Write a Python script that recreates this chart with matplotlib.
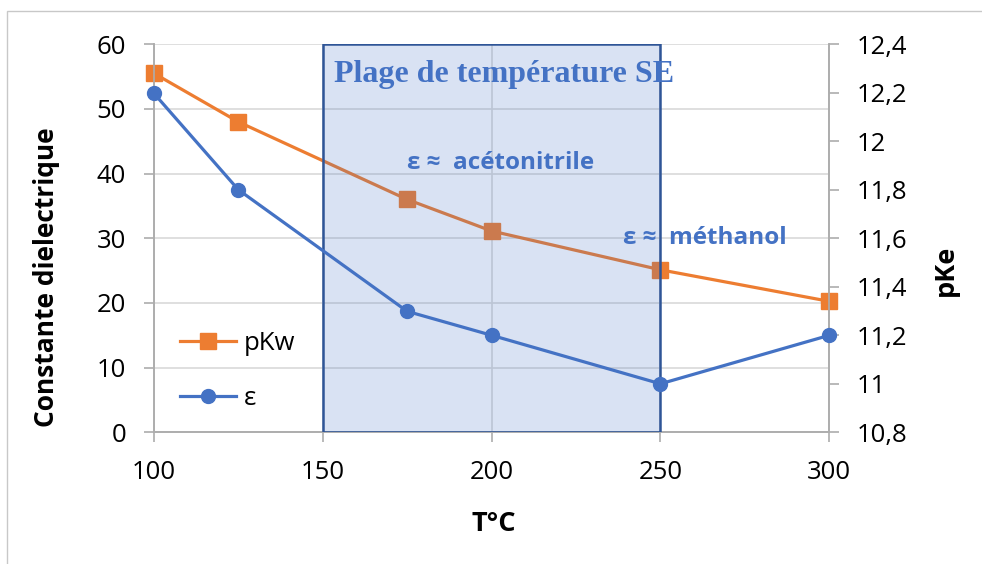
import matplotlib.pyplot as plt
import matplotlib.colors as mcolors

# Données
temperature = [100, 125, 175, 200, 250, 300]
epsilon = [52.4, 37.5, 18.7, 15.0, 7.5, 15.0]
pKw = [12.28, 12.08, 11.76, 11.63, 11.47, 11.34]
plage_se = (150, 250)

orange = '#ED7D31'
bleu = '#4472C4'
gris = '#ADADAD'
sans = ['Open Sans', 'DejaVu Sans']

plt.rcParams['font.family'] = sans

fig = plt.figure(figsize=(9.82, 5.64), dpi=100)
# cadre gris du graphique
fig.patches.append(plt.Rectangle((7/982, -0.1), 1.2, 1 - 11/564 + 0.1,
                                 transform=fig.transFigure, fill=False,
                                 edgecolor='#C8C8C8', lw=1))

ax = fig.add_axes([0.1568, 0.2335, 0.6877, 0.688])
ax2 = ax.twinx()

ax.set_xlim(100, 300)
ax.set_ylim(0, 60)
ax2.set_ylim(10.8, 12.4)

ax.set_xticks([100, 150, 200, 250, 300])
ax.set_yticks(range(0, 61, 10))
ax2.set_yticks([10.8, 11.0, 11.2, 11.4, 11.6, 11.8, 12.0, 12.2, 12.4])
ax2.set_yticklabels(['10,8', '11', '11,2', '11,4', '11,6', '11,8', '12', '12,2', '12,4'])

ax.grid(True, color='#D9D9D9', lw=1.2)
ax.set_axisbelow(True)
for a in (ax, ax2):
    for s in a.spines.values():
        s.set_color(gris)
        s.set_linewidth(1.2)
    a.spines['top'].set_visible(False)
ax.tick_params(axis='both', length=7, width=1.2, color=gris, labelsize=18.5, pad=13)
ax2.tick_params(axis='y', length=7, width=1.2, color=gris, labelsize=18.5, pad=13)

# pKw sous le rectangle
l_pkw, = ax2.plot(temperature, pKw, color=orange, lw=2.3, marker='s', ms=12,
                  zorder=2, clip_on=False)

# plage de température SE
ax2.axvspan(plage_se[0], plage_se[1], facecolor=mcolors.to_rgba(bleu, 0.2),
            edgecolor='#2F5597', lw=1.8, zorder=3)

# epsilon au-dessus (échelle de gauche)
l_eps, = ax2.plot(temperature, epsilon, color=bleu, lw=2.3, marker='o', ms=10,
                  transform=ax.transData, zorder=4, clip_on=False)

ax.set_xlabel('T°C', fontsize=19.5, fontweight='bold')
ax.xaxis.set_label_coords(0.503, -0.203)
ax.set_ylabel('Constante dielectrique', fontsize=19, fontweight='bold')
ax.yaxis.set_label_coords(-0.139, 0.40)
ax2.set_ylabel('pKe', fontsize=19.5, fontweight='bold')
ax2.yaxis.set_label_coords(1.153, 0.417)

ax2.text(203.7, 55.4, 'Plage de température SE', transform=ax.transData,
         family='Liberation Serif', fontsize=23, fontweight='bold', color=bleu,
         ha='center', va='center', zorder=5)
ax2.text(202.5, 41.6, 'ε ≈  acétonitrile', transform=ax.transData,
         fontsize=17.5, fontweight='bold', color=bleu, ha='center', va='center', zorder=5)
ax2.text(263.2, 30.0, 'ε ≈  méthanol', transform=ax.transData,
         fontsize=17.5, fontweight='bold', color=bleu, ha='center', va='center', zorder=5)

leg = ax2.legend([l_pkw, l_eps], ['pKw', 'ε'], loc='center left',
                 bbox_to_anchor=(0.004, 0.158), frameon=False, fontsize=18.5,
                 handlelength=2.2, handletextpad=0.3, labelspacing=1.2)
leg.set_zorder(6)

fig.savefig('out.png', dpi=100)
